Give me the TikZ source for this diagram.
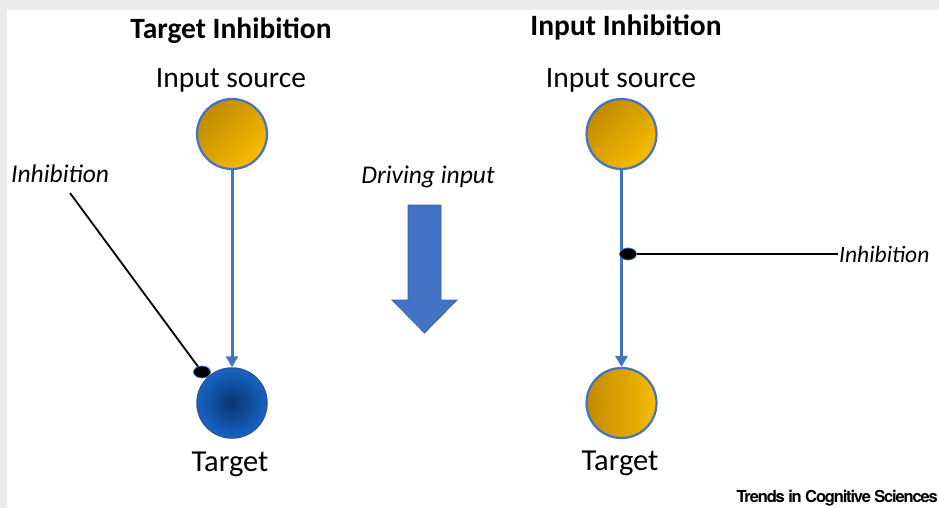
\documentclass[tikz,border=0pt]{standalone}
\usepackage{fontspec}
\setmainfont{Carlito}
\newfontfamily\trendsfont[LetterSpace=-7]{TeX Gyre Heros}
\usetikzlibrary{arrows.meta,shapes.geometric}
\definecolor{bgrey}{HTML}{EBEBEE}
\definecolor{linkblue}{HTML}{4472C4}
\definecolor{golddark}{HTML}{C08A00}
\definecolor{goldlight}{HTML}{F7BC00}
\definecolor{navyin}{HTML}{0A3570}
\definecolor{blueout}{HTML}{1664C6}
\definecolor{blueedge}{HTML}{2F5597}
\tikzset{
  titletext/.style={font=\bfseries\fontsize{29.5}{32}\selectfont, anchor=base, inner sep=0pt},
  lbl/.style={font=\fontsize{29.5}{32}\selectfont, anchor=base, inner sep=0pt},
  itlbl/.style={font=\itshape\fontsize{25.5}{30}\selectfont, inner sep=0pt},
  srcnode/.style={circle, minimum size=70pt, inner sep=0pt, draw=linkblue, line width=2.2pt,
     top color=golddark, bottom color=goldlight, shading angle=45},
  goldtarget/.style={circle, minimum size=70pt, inner sep=0pt, draw=linkblue, line width=2.2pt,
     left color=golddark, right color=goldlight},
  bluetarget/.style={circle, minimum size=70pt, inner sep=0pt, draw=blueedge, line width=1.5pt,
     inner color=navyin, outer color=blueout},
  link/.style={draw=linkblue, line width=3pt, -{Triangle[length=11pt,width=12pt]}},
  inhdot/.style={ellipse, minimum width=17pt, minimum height=12pt, inner sep=0pt, fill=black, draw=linkblue, line width=0.8pt},
  inhline/.style={draw=black, line width=1.8pt},
  bigarrow/.style={fill=linkblue, draw=linkblue!85!black, line width=0.8pt, line join=miter}
}
\begin{document}
\begin{tikzpicture}[x=1pt,y=-1pt]
\useasboundingbox (0,0) rectangle (939,508);
\fill[bgrey] (0,0) rectangle (939,508);
\fill[white] (7,10) rectangle (939,508);

% titles
\node[titletext] (t1) at (231,39) {Target Inhibition};
\node[titletext] (t2) at (626,36) {Input Inhibition};

% left panel
\node[lbl] (s1) at (231,88) {Input source};
\node[srcnode] (c1) at (232,134) {};
\node[bluetarget] (c2) at (232,403) {};
\node[lbl, font=\fontsize{30.5}{33}\selectfont] (g1) at (230,471) {Target};
\draw[link] (c1) -- (c2);
\node[itlbl, anchor=base west] (h1) at (11,182) {Inhibition};
\coordinate (i1) at (70,193);
\node[inhdot] (d1) at (202,372) {};
\draw[inhline] (i1) -- (d1);

% middle
\node[itlbl, anchor=base] (dr) at (428,183) {Driving input};
\path[bigarrow] (408,205) -- (441,205) -- (441,300) -- (457,300) -- (424.5,333) -- (392,300) -- (408,300) -- cycle;

% right panel
\node[lbl] (s2) at (621,88) {Input source};
\node[srcnode] (c3) at (621.5,134) {};
\node[goldtarget] (c4) at (621.5,403) {};
\node[lbl, font=\fontsize{30.5}{33}\selectfont] (g2) at (620,470) {Target};
\draw[link] (c3) -- (c4);
\node[inhdot] (d2) at (628,254) {};
\coordinate (i2) at (838,254);
\draw[line width=1.5pt] (d2) -- (i2);
\node[itlbl, font=\itshape\fontsize{23.5}{28}\selectfont, anchor=base west] (h2) at (839,262) {Inhibition};

% footer
\node[font=\trendsfont\bfseries\fontsize{16.5}{18}\selectfont, anchor=base east, inner sep=0pt] (tr) at (938,502) {Trends in Cognitive Sciences};
\end{tikzpicture}
\end{document}
